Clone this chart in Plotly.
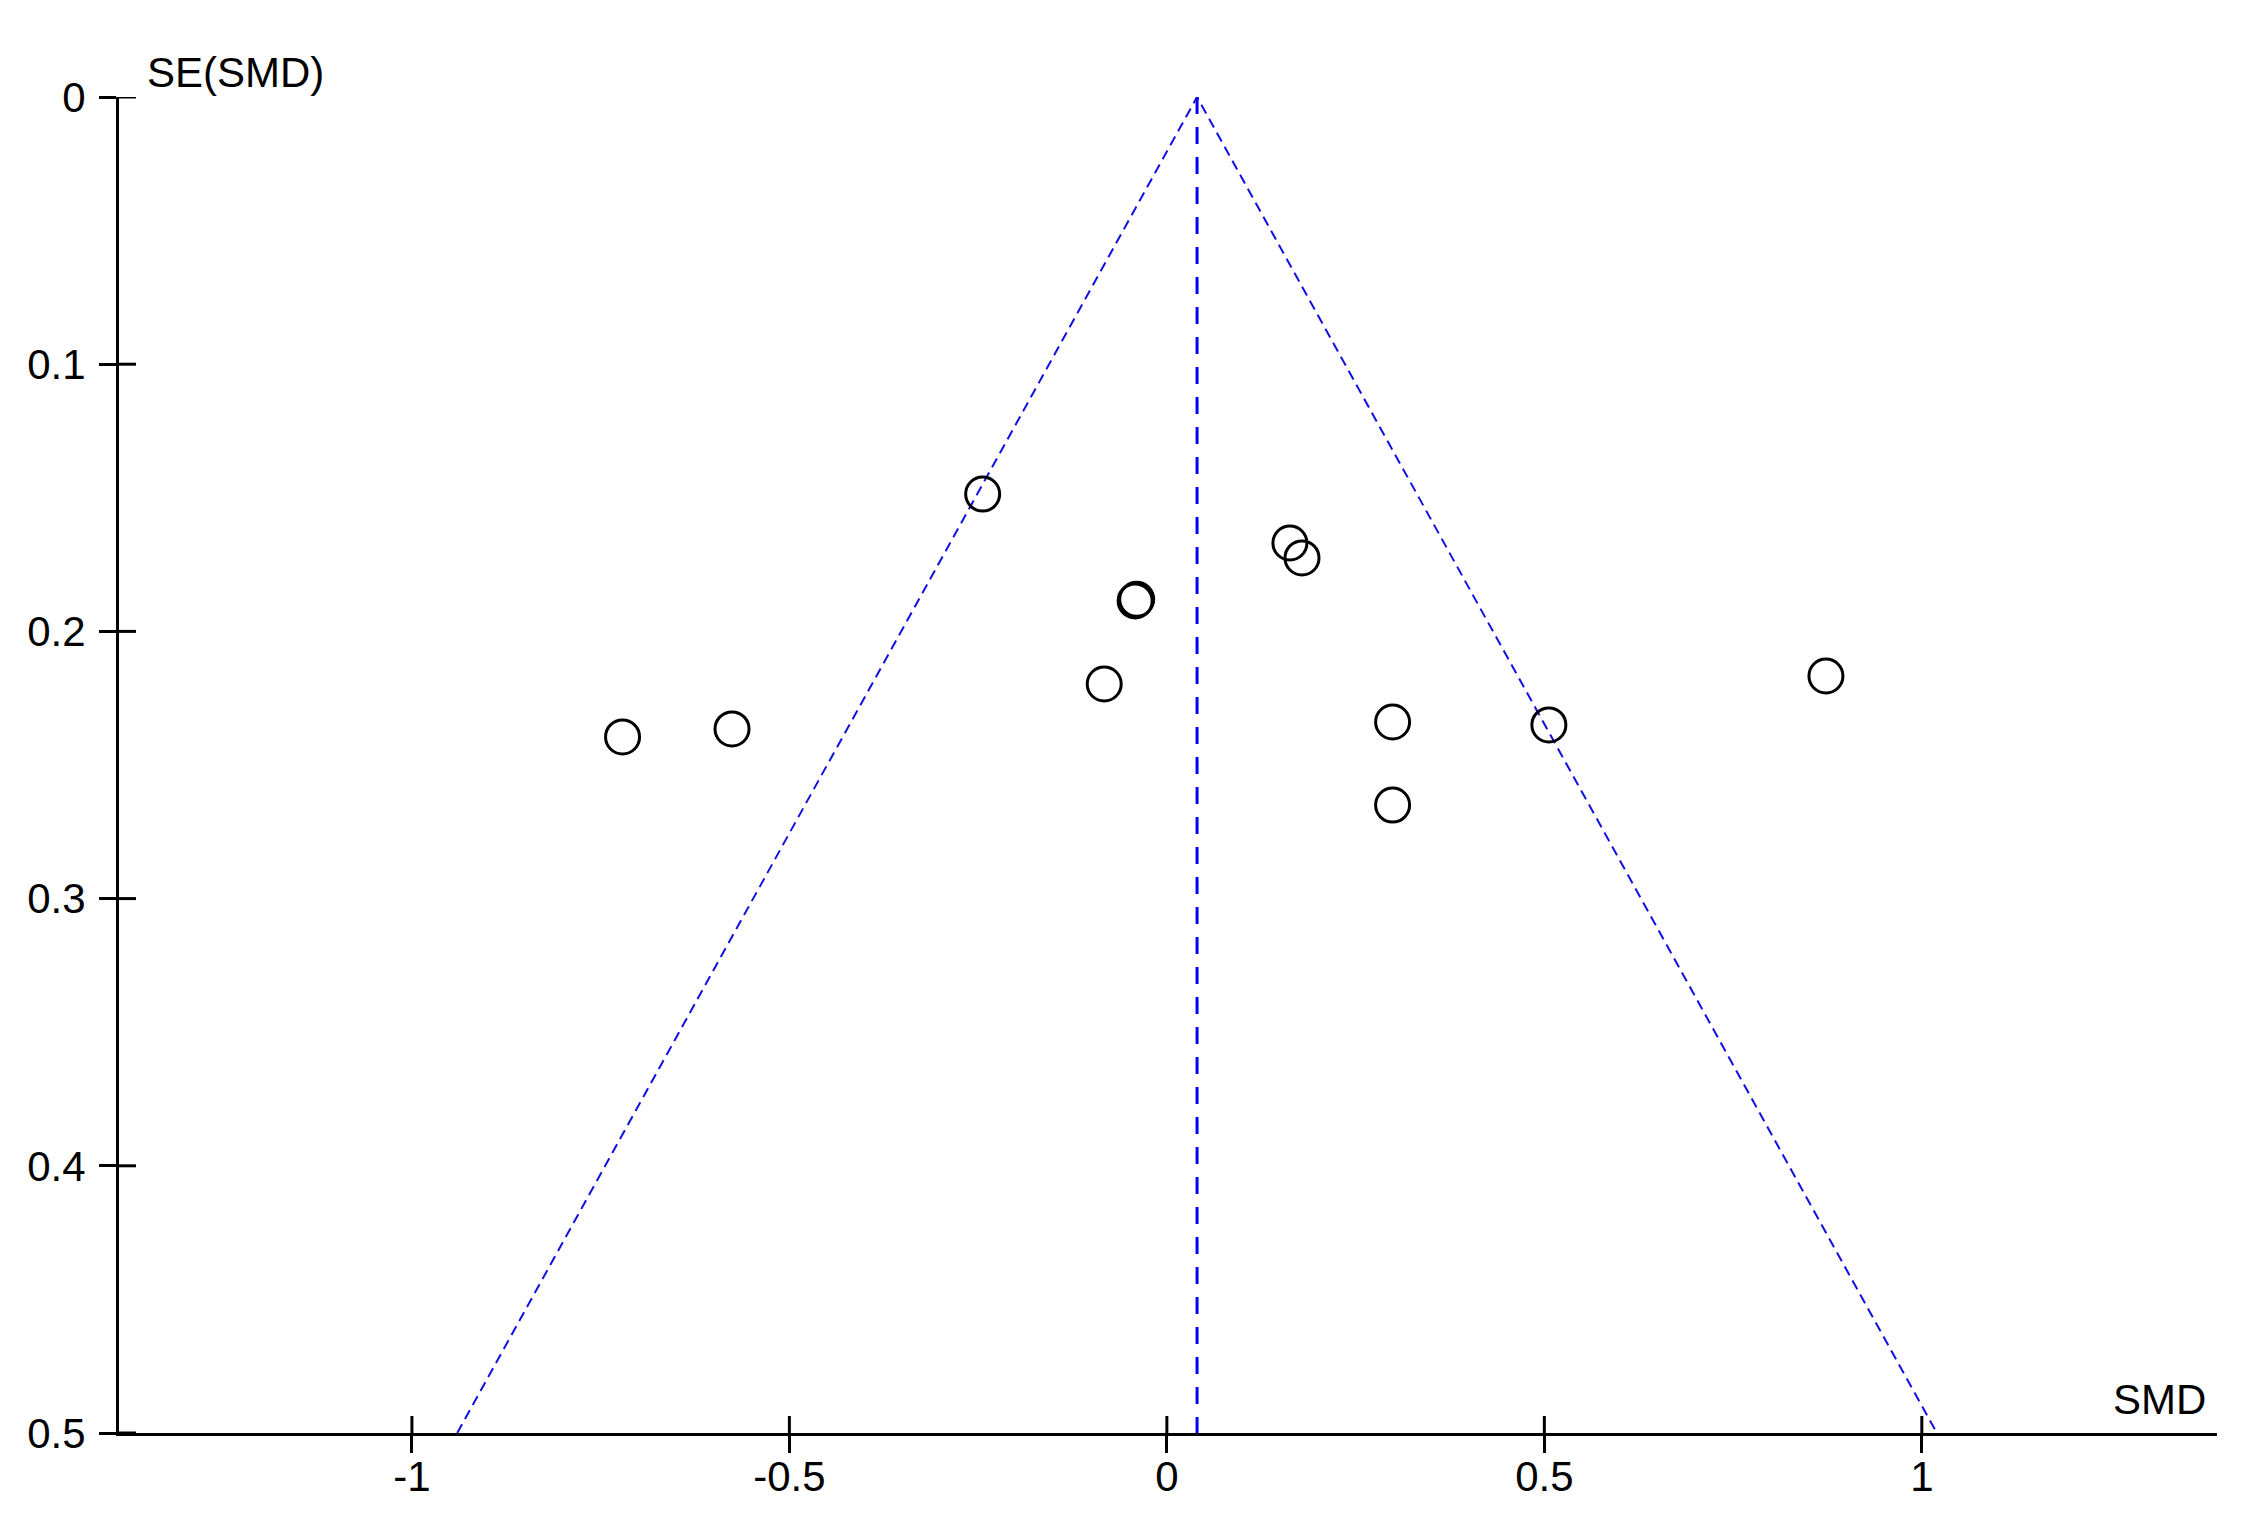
import plotly.graph_objects as go

# study estimates
smd = [-0.244, 0.163, 0.179, -0.042, -0.040, -0.083, -0.721, -0.576, 0.299, 0.506, 0.299, 0.873]
se_smd = [0.1486, 0.1669, 0.1725, 0.1886, 0.1880, 0.2197, 0.2395, 0.2365, 0.2339, 0.235, 0.265, 0.2167]

# pooled estimate and 95% limits of the funnel
pooled_x = [0.04, 0.04]
pooled_se = [0.0, 0.5]
funnel_x = [-0.94, 0.04, 1.02]
funnel_se = [0.5, 0.0, 0.5]

x_ticks = [-1, -0.5, 0, 0.5, 1]
x_labels = ["-1", "-0.5", "0", "0.5", "1"]
y_ticks = [0, 0.1, 0.2, 0.3, 0.4, 0.5]
y_labels = ["0", "0.1", "0.2", "0.3", "0.4", "0.5"]

font = "Liberation Sans"
blue = "#1010e0"

fig = go.Figure()
fig.add_trace(go.Scatter(
    x=funnel_x, y=funnel_se, mode="lines",
    line=dict(color=blue, width=2, dash="10px,6px"),
    hoverinfo="skip",
))
fig.add_trace(go.Scatter(
    x=pooled_x, y=pooled_se, mode="lines",
    line=dict(color="#0000ff", width=3, dash="17px,13px"),
    hoverinfo="skip",
))
fig.add_trace(go.Scatter(
    x=smd, y=se_smd, mode="markers",
    marker=dict(symbol="circle", size=34, color="rgba(0,0,0,0)",
                line=dict(color="black", width=3)),
))

x_range = [-1.388, 1.391]
y_range = [0.5, 0]

# inner half of the ticks, so they cross the axis lines
tick_in = 17
shapes = []
for v in x_ticks:
    shapes.append(dict(type="line", xref="x", yref="y domain", x0=v, x1=v,
                       y0=0, y1=tick_in / 1336, line=dict(color="black", width=3)))
for v in y_ticks:
    shapes.append(dict(type="line", xref="x domain", yref="y", x0=0, x1=tick_in / 2098,
                       y0=v, y1=v, line=dict(color="black", width=3)))

fig.update_layout(
    width=2243,
    height=1525,
    paper_bgcolor="white",
    plot_bgcolor="white",
    showlegend=False,
    margin=dict(l=111, r=34, t=89, b=100),
    font=dict(family=font, size=40, color="black"),
    xaxis=dict(
        range=x_range, tickvals=x_ticks, ticktext=x_labels,
        ticks="outside", ticklen=17, tickwidth=3, tickcolor="black",
        ticklabelstandoff=-12,
        tickfont=dict(family=font, size=42),
        showline=True, linecolor="black", linewidth=3,
        showgrid=False, zeroline=False,
    ),
    yaxis=dict(
        range=y_range, tickvals=y_ticks, ticktext=y_labels,
        ticks="outside", ticklen=17, tickwidth=3, tickcolor="black",
        ticklabelstandoff=5,
        tickfont=dict(family=font, size=42),
        showline=True, linecolor="black", linewidth=3,
        showgrid=False, zeroline=False,
    ),
    shapes=shapes,
    annotations=[
        dict(text="SE(SMD)", xref="paper", yref="paper", x=0.0124, y=1.0187,
             xanchor="left", yanchor="middle", showarrow=False,
             font=dict(family=font, size=42)),
        dict(text="SMD", xref="paper", yref="paper", x=0.9957, y=0.0254,
             xanchor="right", yanchor="middle", showarrow=False,
             font=dict(family=font, size=42)),
    ],
)

fig.write_html("out.html")
